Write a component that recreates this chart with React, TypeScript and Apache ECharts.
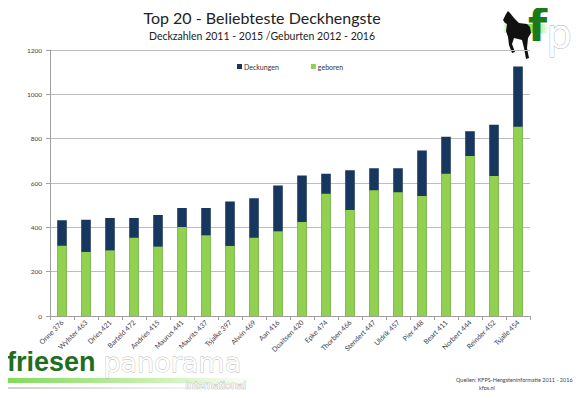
import React, { useEffect, useRef } from "react";
import * as echarts from "echarts";

const categories = [
  "Onne 376", "Wylster 463", "Dries 421", "Barteld 472", "Andries 415",
  "Maurus 441", "Maurits 437", "Tsjalke 397", "Alwin 469", "Aan 416",
  "Doaitsen 420", "Epke 474", "Thorben 466", "Stendert 447", "Uldrik 457",
  "Pier 448", "Beart 411", "Norbert 444", "Reinder 452", "Tsjalle 454",
];
const deckungen = [432, 434, 442, 442, 456, 487, 487, 516, 531, 589, 634, 642, 657, 666, 666, 747, 809, 834, 863, 1126];
const geboren = [317, 289, 296, 353, 313, 401, 364, 316, 353, 382, 424, 552, 478, 567, 558, 541, 642, 722, 632, 854];
const yTicks = { min: 0, max: 1200, interval: 200 };

const FONT = "Lato, 'Open Sans', sans-serif";

export default function App() {
  const ref = useRef<HTMLDivElement>(null);
  useEffect(() => {
    if (!ref.current) return;
    const chart = echarts.init(ref.current, null, { renderer: "svg" });
    chart.setOption({
      animation: false,
      backgroundColor: "#ffffff",
      textStyle: { fontFamily: FONT },
      title: [
        {
          text: "Top 20 - Beliebteste Deckhengste",
          left: 257, top: 4, textAlign: "center",
          textStyle: { fontSize: 16, fontWeight: "normal", color: "#222", fontFamily: FONT },
        },
        {
          text: "Deckzahlen 2011 - 2015 /Geburten 2012 - 2016",
          left: 257, top: 25, textAlign: "center",
          textStyle: { fontSize: 10.5, fontWeight: "normal", color: "#222", fontFamily: FONT },
        },
      ],
      legend: {
        data: ["Deckungen", "geboren"],
        left: 232, top: 58,
        itemWidth: 5, itemHeight: 5, itemGap: 32,
        icon: "rect",
        textStyle: { fontSize: 7, color: "#333", padding: [0, 0, 0, -3] },
      },
      grid: { left: 50, right: 54, top: 50, bottom: 82 },
      xAxis: {
        type: "category",
        data: categories,
        axisLine: { lineStyle: { color: "#a0a0a0" } },
        axisTick: { show: true, alignWithLabel: false, length: 4, lineStyle: { color: "#a0a0a0" } },
        axisLabel: { rotate: 45, fontSize: 7, color: "#444", margin: 5, interval: 0 },
      },
      yAxis: {
        type: "value",
        min: yTicks.min, max: yTicks.max, interval: yTicks.interval,
        axisLine: { show: true, lineStyle: { color: "#a0a0a0" } },
        axisTick: { show: true, length: 4, lineStyle: { color: "#a0a0a0" } },
        axisLabel: { fontSize: 6.5, color: "#444", margin: 8, formatter: (v: number) => String(v) },
        splitLine: { lineStyle: { color: "#bdbdbd" } },
      },
      series: [
        {
          name: "Deckungen", type: "bar", data: deckungen, barWidth: "40%",
          itemStyle: { color: "#17375E" },
        },
        {
          name: "geboren", type: "bar", data: geboren, barWidth: "40%", barGap: "-100%",
          itemStyle: { color: "#92D050" },
        },
      ],
      graphic: [
        // bottom-left logo
        {
          type: "rect", left: 0, top: 378, shape: { width: 255, height: 5 },
          style: {
            fill: new echarts.graphic.LinearGradient(0, 0, 1, 0, [
              { offset: 0, color: "#7ed957" }, { offset: 0.6, color: "#c8f0b0" }, { offset: 1, color: "#ffffff" },
            ]),
          },
        },
        {
          type: "rect", left: 0, top: 387, shape: { width: 255, height: 2 },
          style: {
            fill: new echarts.graphic.LinearGradient(0, 0, 1, 0, [
              { offset: 0, color: "#d0d0d0" }, { offset: 1, color: "#ffffff" },
            ]),
          },
        },
        {
          type: "text", left: 7, top: 348,
          style: { text: "friesen", fontSize: 27, lineHeight: 27, fontWeight: "bold", fill: "#1f6e1f", fontFamily: "'Liberation Sans', Arial, sans-serif" },
        },
        {
          type: "text", left: 103, top: 349,
          style: { text: "panorama", fontSize: 27, lineHeight: 27, fontWeight: "normal", fill: "#ffffff", stroke: "#b5b5b5", lineWidth: 0.8, fontFamily: "'DejaVu Sans', sans-serif" },
        },
        {
          type: "text", left: 185, top: 379,
          style: { text: "International", fontSize: 11, lineHeight: 11, fill: "#ffffff", stroke: "#a0a0a0", lineWidth: 0.6, fontFamily: "'Liberation Sans', Arial, sans-serif" },
        },
        // bottom-right sources
        {
          type: "text", left: 456, top: 377,
          style: { text: "Quellen: KFPS-Hengsteninformatie 2011 - 2016", fontSize: 5.5, fill: "#444", fontFamily: FONT },
        },
        {
          type: "text", left: 479, top: 385,
          style: { text: "kfps.nl", fontSize: 5.5, fill: "#444", fontFamily: FONT },
        },
        // top-right logo
        {
          type: "rect", left: 504, top: 24, shape: { width: 44, height: 9 },
          style: {
            fill: new echarts.graphic.LinearGradient(0, 0, 1, 0, [
              { offset: 0, color: "#e8f8e0" }, { offset: 0.4, color: "#5ed43a" }, { offset: 0.8, color: "#a6ec8a" }, { offset: 1, color: "#ffffff" },
            ]),
          },
        },
        {
          type: "text", left: 528, top: 3,
          style: { text: "f", fontSize: 44, fontWeight: "bold", fill: "#1a7a1a", fontFamily: "'DejaVu Sans', sans-serif" },
        },
        {
          type: "polygon",
          shape: {
            points: [
              [503, 20], [506, 14], [508, 11], [510, 13], [514, 18], [519, 23], [527, 24],
              [530, 27], [531, 33], [528, 38], [527, 48], [529, 58], [526, 59], [524, 48],
              [522, 40], [514, 38], [512, 44], [515, 52], [512, 53], [509, 45], [508, 37],
              [506, 31], [507, 24], [505, 23],
            ],
          },
          style: { fill: "#111" },
        },
        {
          type: "text", left: 546, top: 14,
          style: { text: "p", fontSize: 40, fill: "#ffffff", stroke: "#aaaaaa", lineWidth: 0.8, fontFamily: "'DejaVu Sans', sans-serif" },
        },
      ],
    });
    return () => chart.dispose();
  }, []);
  return <div ref={ref} style={{ width: 584, height: 398, margin: -8 }} />;
}
